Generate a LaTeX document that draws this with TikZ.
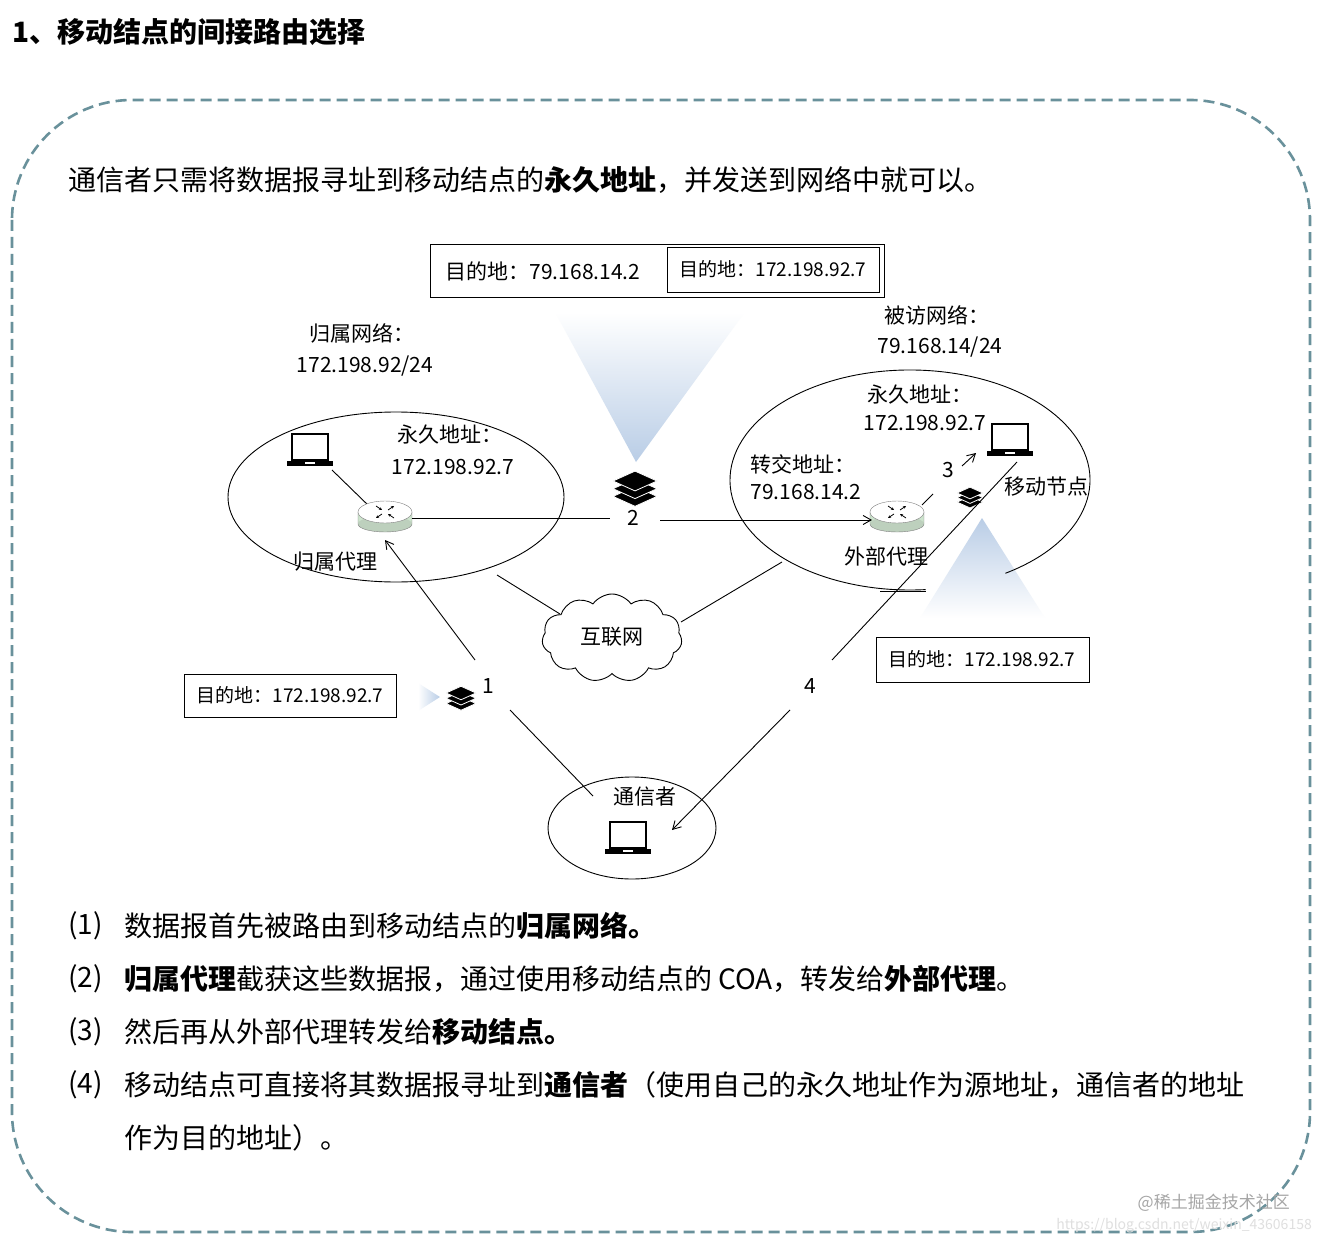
\documentclass[tikz,border=0pt]{standalone}
\usepackage{fontspec}
\setmainfont{Noto Sans CJK SC}
\usetikzlibrary{shapes.symbols,arrows.meta}
\definecolor{dashc}{RGB}{105,145,155}
\definecolor{fadeb}{RGB}{185,205,230}
\definecolor{rgreen}{RGB}{205,228,205}
\tikzset{
 lbl/.style={font=\fontsize{21}{24}\selectfont, inner sep=0pt},
 sml/.style={font=\fontsize{19}{22}\selectfont, inner sep=0pt},
 big/.style={font=\fontsize{28}{32}\selectfont, inner sep=0pt, anchor=west},
 box/.style={draw, thick, inner sep=0pt},
 ln/.style={draw, line width=0.9pt},
 arr/.style={ln, -{Straight Barb[length=8pt,width=9pt]}},
 tiny/.style={line width=0.8pt, -{Stealth[length=3pt,width=3pt]}},
}
\newcommand{\laptop}[2]{%
 \draw[line width=1.6pt,fill=white] (#1-18,#2-16) rectangle (#1+18,#2+10);
 \fill (#1-23,#2+11) rectangle (#1+23,#2+16);
 \fill[white] (#1-5,#2+12) rectangle (#1+5,#2+14);}
\newcommand{\router}[2]{%
 \fill[rgreen] (#1-27,#2) rectangle (#1+27,#2+12);
 \fill[rgreen!80!gray] (#1,#2+12) ellipse [x radius=27pt, y radius=8pt];
 \draw[gray] (#1-27,#2) -- (#1-27,#2+12) arc[start angle=180,end angle=360,x radius=27pt,y radius=8pt] -- (#1+27,#2);
 \draw[gray,fill=white] (#1,#2) ellipse [x radius=27pt, y radius=11pt];
 \draw[tiny] (#1-9,#2-6) -- (#1-3,#2-2);
 \draw[tiny] (#1+9,#2+6) -- (#1+3,#2+2);
 \draw[tiny] (#1+3,#2-2) -- (#1+9,#2-6);
 \draw[tiny] (#1-3,#2+2) -- (#1-9,#2+6);}
\newcommand{\layers}[3]{%
 \foreach \k in {2,1,0}{\draw[fill=black,draw=white,line width=0.8pt] (#1-#3,#2+\k*#3*0.35) -- (#1,#2-#3*0.45+\k*#3*0.35) -- (#1+#3,#2+\k*#3*0.35) -- (#1,#2+#3*0.45+\k*#3*0.35) -- cycle;}}
\begin{document}
\begin{tikzpicture}[x=1pt,y=-1pt]
\useasboundingbox (0,0) rectangle (1322,1246);
\fill[white] (0,0) rectangle (1322,1246);
\node[font=\fontsize{28}{32}\selectfont\bfseries, anchor=west, inner sep=0pt] (title) at (12,32) {1、移动结点的间接路由选择};
\draw[dashc, line width=2.6pt, dash pattern=on 11pt off 6pt, rounded corners=120pt] (12,100) rectangle (1310,1232);
\node[big] (intro) at (68,180) {通信者只需将数据报寻址到移动结点的\textbf{永久地址}，并发送到网络中就可以。};
% fade triangles
\shade[top color=white, bottom color=fadeb] (555,312) -- (745,312) -- (636,462) -- cycle;
\shade[top color=fadeb, bottom color=white] (982,518) -- (1045,618) -- (920,618) -- cycle;
\shade[left color=white, right color=fadeb] (418,683) -- (440,697) -- (418,711) -- cycle;
% top boxes
\node[box, minimum width=454pt, minimum height=53pt] (ob) at (657,270.5) {};
\node[box, minimum width=212pt, minimum height=45pt] (ib) at (773,269.5) {};
\node[lbl] (t1) at (543,271) {目的地：79.168.14.2};
\node[sml] (t2) at (773,269) {目的地：172.198.92.7};
% left network
\node[lbl] (hn1) at (362,333) {归属网络：};
\node[lbl] (hn2) at (365,366) {172.198.92/24};
\draw[line width=0.9pt] (396,497) ellipse [x radius=168pt, y radius=85pt];
\laptop{310}{450}
\node[lbl] (pa1) at (450,435) {永久地址：};
\node[lbl] (pa2) at (453,467) {172.198.92.7};
\draw[ln] (332,470) -- (370,507);
\router{385}{512}
\node[lbl] (ha) at (335,562) {归属代理};
% right network
\node[lbl] (vn1) at (937,315) {被访网络：};
\node[lbl] (vn2) at (940,347) {79.168.14/24};
\draw[line width=0.9pt] (910,480) ++(-58:180pt and 110pt) arc[start angle=-58, end angle=275, x radius=180pt, y radius=110pt];
\draw[line width=0.9pt] (880,591) -- (926,591);
\node[lbl] (pb1) at (920,395) {永久地址：};
\node[lbl] (pb2) at (925,423) {172.198.92.7};
\laptop{1010}{440}
\node[lbl] (co1) at (803,464) {转交地址：};
\node[lbl] (co2) at (806,492) {79.168.14.2};
\router{897}{512}
\node[lbl] (fa) at (886,556) {外部代理};
\layers{970}{493}{13}
\node[lbl] (mn) at (1046,487) {移动节点};
% step 2
\layers{635}{481}{22}
\node[lbl] (n2) at (633,518) {2};
\draw[ln] (412,518) -- (610,518);
\draw[arr] (660,520) -- (872,520);
% step 3
\draw[ln] (922,505) -- (933,494);
\node[lbl] (n3) at (948,470) {3};
\draw[arr] (962,466) -- (976,453);
% internet
\node[cloud, draw, line width=0.9pt, cloud puffs=11, cloud puff arc=110, aspect=1.7, minimum width=140pt, minimum height=88pt, fill=white] (net) at (612,638) {};
\node[lbl] at (612,637) {互联网};
\draw[ln] (497,575) -- (560,614);
\draw[ln] (681,622) -- (782,562);
% step 1
\node[box, minimum width=212pt, minimum height=43pt] (lb) at (290,695.5) {};
\node[sml] at (290,695) {目的地：172.198.92.7};
\layers{461}{693}{15}
\node[lbl] (n1) at (488,686) {1};
\draw[arr] (475,660) -- (385,540);
\draw[ln] (510,710) -- (593,796);
% step 4
\draw[ln] (1017,462) -- (832,660);
\node[lbl] (n4) at (810,686) {4};
\draw[arr] (790,710) -- (672,830);
\node[box, minimum width=213pt, minimum height=45pt] (rb) at (982.5,659.5) {};
\node[sml] at (982,659) {目的地：172.198.92.7};
% correspondent
\draw[line width=0.9pt] (632,828) ellipse [x radius=84pt, y radius=51pt];
\node[lbl] (cor) at (645,797) {通信者};
\laptop{628}{838}
% list
\node[big] at (68,926) {(1)};
\node[big] at (124,926) {数据报首先被路由到移动结点的\textbf{归属网络。}};
\node[big] at (68,979) {(2)};
\node[big] at (124,979) {\textbf{归属代理}截获这些数据报，通过使用移动结点的 COA，转发给\textbf{外部代理}。};
\node[big] at (68,1032) {(3)};
\node[big] at (124,1032) {然后再从外部代理转发给\textbf{移动结点。}};
\node[big] at (68,1085) {(4)};
\node[big] at (124,1085) {移动结点可直接将其数据报寻址到\textbf{通信者}（使用自己的永久地址作为源地址，通信者的地址};
\node[big] at (124,1138) {作为目的地址）。};
% watermark
\node[font=\fontsize{17}{20}\selectfont, text=gray!70, anchor=east, inner sep=0pt] at (1290,1203) {@稀土掘金技术社区};
\node[font=\fontsize{14}{16}\selectfont, text=gray!25, anchor=east, inner sep=0pt] at (1312,1226) {https://blog.csdn.net/weixin\_43606158};
\end{tikzpicture}
\end{document}
